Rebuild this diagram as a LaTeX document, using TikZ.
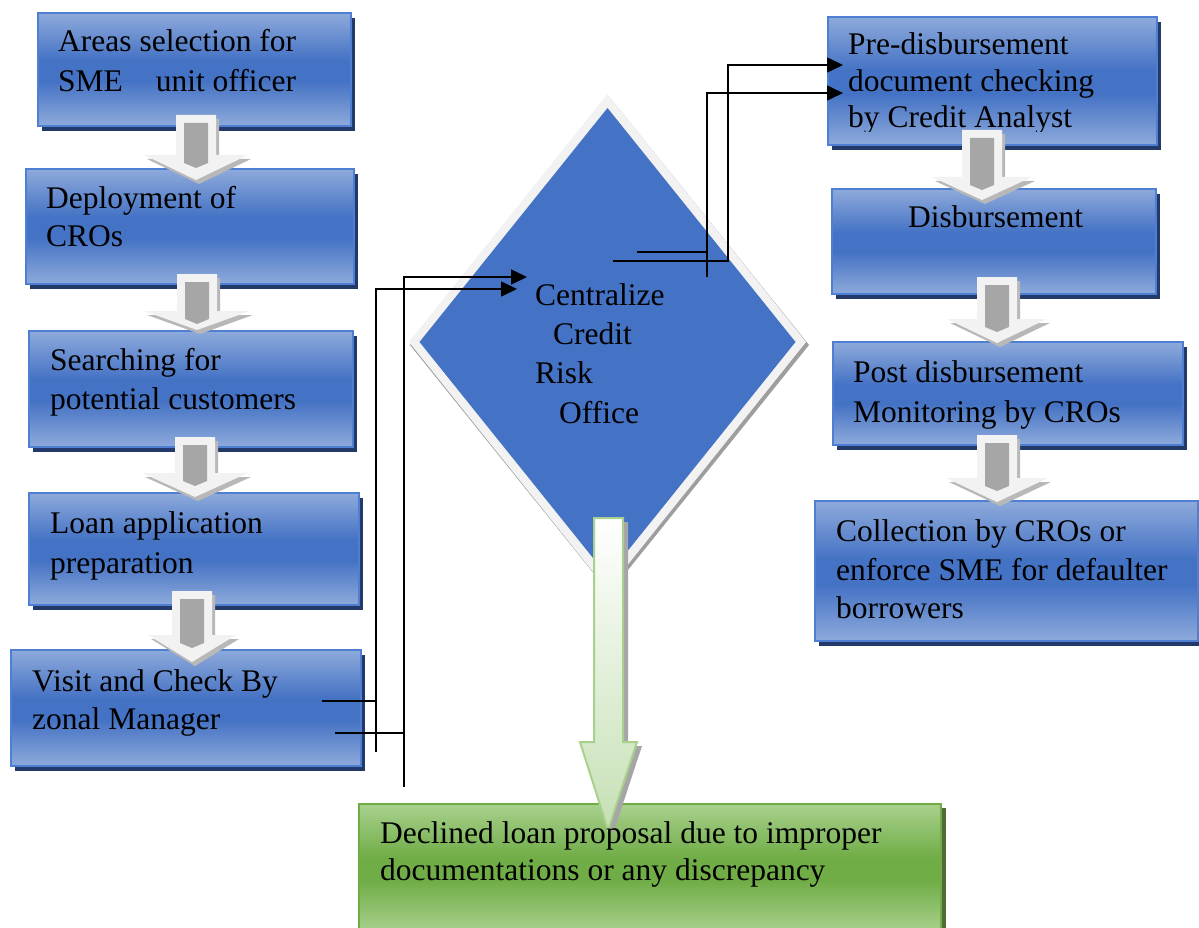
\documentclass[tikz,border=0pt]{standalone}
\usepackage{fontspec}
\setmainfont{Liberation Serif}
\usetikzlibrary{arrows.meta,shadows}
\definecolor{blite}{HTML}{8EAADB}
\definecolor{bdark}{HTML}{4472C4}
\definecolor{bedge}{HTML}{4F7FD2}
\definecolor{navy}{HTML}{22396A}
\definecolor{lgray}{HTML}{F2F2F2}
\definecolor{dgray}{HTML}{A6A6A6}
\definecolor{sgray}{HTML}{B8B8B8}
\definecolor{dshadow}{HTML}{9E9E9E}
\definecolor{glite}{HTML}{A9D18E}
\definecolor{gdark}{HTML}{70AD47}
\definecolor{gpale}{HTML}{C5E0B4}
\definecolor{gshadow}{HTML}{4E6B38}
\pgfdeclareverticalshading{bshade}{100bp}{color(0bp)=(blite); color(25bp)=(blite); color(45bp)=(bdark); color(54bp)=(bdark); color(75bp)=(blite); color(100bp)=(blite)}
\pgfdeclareverticalshading{gshade}{100bp}{color(0bp)=(glite); color(25bp)=(glite); color(45bp)=(gdark); color(54bp)=(gdark); color(75bp)=(glite); color(100bp)=(glite)}
\newcommand{\blkpoly}[5]{({#1-20},{#2}) -- ({#1+20},{#2}) -- ({#1+20},{#3}) -- ({#1+#5},{#3}) -- ({#1},{#4}) -- ({#1-#5},{#3}) -- ({#1-20},{#3}) -- cycle}
\newcommand{\blkarrow}[5]{%
  \begin{scope}[shift={(3,4)}]\fill[sgray] \blkpoly{#1}{#2}{#3}{#4}{#5};\end{scope}
  \fill[lgray] \blkpoly{#1}{#2}{#3}{#4}{#5};
  \fill[dgray] ({#1-12},{#2+8}) -- ({#1+12},{#2+8}) -- ({#1+12},{#3+8}) -- ({#1},{#3+13}) -- ({#1-12},{#3+8}) -- cycle;}
\tikzset{
  bluebox/.style={rectangle, draw=bedge, line width=1.8pt, shade, shading=bshade,
    drop shadow={shadow xshift=4pt, shadow yshift=-5pt, fill=navy, opacity=1},
    inner sep=0pt, anchor=north west},
  greenbox/.style={rectangle, draw=gdark, line width=1.8pt, shade, shading=gshade,
    drop shadow={shadow xshift=5pt, shadow yshift=-4pt, fill=gshadow, opacity=1},
    inner sep=0pt, anchor=north west},
  txt/.style={font=\fontsize{31.5}{39}\selectfont, inner sep=0pt, anchor=base west, text=black},
  conn/.style={line width=1.6pt, black},
  arr/.style={conn, -{Triangle[length=16pt,width=15pt]}}
}
\begin{document}
\begin{tikzpicture}[x=1pt,y=-1pt]
\useasboundingbox (0,0) rectangle (1199,928);
% diamond
\fill[dshadow] (609.5,97) -- (809,345) -- (609.5,593) -- (410,345) -- cycle;
\fill[lgray] (607.5,94) -- (806,342) -- (607.5,590) -- (409,342) -- cycle;
\fill[bdark] (607.5,108) -- (795.5,342) -- (607.5,576) -- (419.5,342) -- cycle;
\coordinate (cro) at (607.5,342);
% left boxes
\node[bluebox, minimum width=313pt, minimum height=113pt] (L1) at (37,12) {};
\node[bluebox, minimum width=328pt, minimum height=115pt] (L2) at (25,168) {};
\node[bluebox, minimum width=324pt, minimum height=116pt] (L3) at (28,330) {};
\node[bluebox, minimum width=330pt, minimum height=112pt] (L4) at (28,492) {};
\node[bluebox, minimum width=350pt, minimum height=116pt] (L5) at (10,649) {};
% right boxes
\node[bluebox, minimum width=329pt, minimum height=128pt] (R1) at (827,16) {};
\node[bluebox, minimum width=324pt, minimum height=105pt] (R2) at (831,188) {};
\node[bluebox, minimum width=350pt, minimum height=103pt] (R3) at (832,341) {};
\node[bluebox, minimum width=383pt, minimum height=140pt] (R4) at (814,500) {};
% green box
\node[greenbox, minimum width=582pt, minimum height=128pt] (G) at (358,803) {};
% green arrow
\begin{scope}[shift={(5,4)}]
\fill[gray!70] (594,518) -- (623,518) -- (623,742) -- (637,742) -- (608,830) -- (580,742) -- (594,742) -- cycle;
\end{scope}
\shade[top color=white, bottom color=gpale, draw=glite, line width=2pt] (594,518) -- (623,518) -- (623,742) -- (637,742) -- (608,830) -- (580,742) -- (594,742) -- cycle;
% texts
\node[txt] (t1a) at (58,52) {Areas selection for};
\node[txt] (t1b) at (58,92) {SME\hspace{25pt} unit officer};
\node[txt] (t2a) at (46,208) {Deployment of};
\node[txt] (t2b) at (46,246) {CROs};
\node[txt] (t3a) at (50,370) {Searching for};
\node[txt] (t3b) at (50,409) {potential customers};
\node[txt] (t4a) at (50,533) {Loan application};
\node[txt] (t4b) at (50,573) {preparation};
\node[txt] (t5a) at (32,691) {Visit and Check By};
\node[txt] (t5b) at (32,729) {zonal Manager};
\node[txt] (r1a) at (848,55) {Pre-disbursement};
\node[txt] (r1b) at (848,92) {document checking};
\begin{scope}
\clip (827,16) rectangle (1156,132);
\node[txt] (r1c) at (848,128) {by Credit Analyst};
\end{scope}
\node[txt] (r2a) at (908,228) {Disbursement};
\node[txt] (r3a) at (853,382) {Post disbursement};
\node[txt] (r3b) at (853,422) {Monitoring by CROs};
\node[txt] (r4a) at (836,541) {Collection by CROs or};
\node[txt] (r4b) at (836,580) {enforce SME for defaulter};
\node[txt] (r4c) at (836,618) {borrowers};
\node[txt] (ga) at (380,843) {Declined loan proposal due to improper};
\node[txt] (gb) at (380,880) {documentations or any discrepancy};
\node[txt] (da) at (535,305) {Centralize};
\node[txt] (db) at (553,344) {Credit};
\node[txt] (dc) at (535,383) {Risk};
\node[txt] (dd) at (559,423) {Office};
% block arrows
\blkarrow{196}{115}{155}{180}{52}
\blkarrow{197}{274}{311}{330}{53}
\blkarrow{195}{437}{473}{497}{53}
\blkarrow{192}{591}{635}{662}{44}
\blkarrow{982}{130}{177}{200}{50}
\blkarrow{997}{277}{319}{343}{50}
\blkarrow{997}{435}{478}{502}{51}
% connectors
\coordinate (la0) at (322,701);
\coordinate (la1) at (376,752);
\coordinate (la2) at (517,289);
\coordinate (lb0) at (335,733);
\coordinate (lb1) at (404,787);
\coordinate (lb2) at (527,277);
\coordinate (rc0) at (613,261);
\coordinate (rc1) at (728,261);
\coordinate (rc2) at (843,65);
\coordinate (rd0) at (637,252);
\coordinate (rd1) at (707,277);
\coordinate (rd2) at (843,93);
\draw[conn] (la0) -- (la0 -| la1);
\draw[arr] (la1) |- (la2);
\draw[conn] (lb0) -- (lb0 -| lb1);
\draw[arr] (lb1) |- (lb2);
\draw[arr] (rc0) -- (rc1) |- (rc2);
\draw[conn] (rd0) -- (rd0 -| rd1);
\draw[arr] (rd1) |- (rd2);
\end{tikzpicture}
\end{document}
